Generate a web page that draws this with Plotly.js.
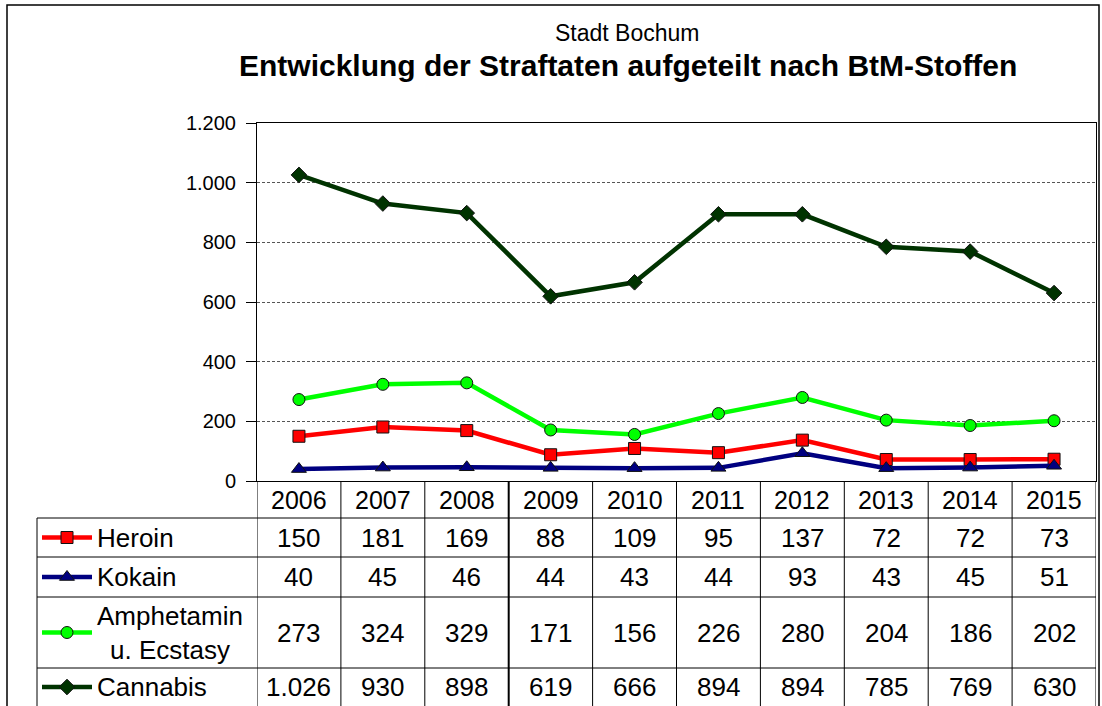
<!DOCTYPE html>
<html>
<head>
<meta charset="utf-8">
<script src="https://cdn.plot.ly/plotly-3.0.1.min.js"></script>
<style>html,body{margin:0;padding:0;background:#fff;}#chart{width:1102px;height:706px;}</style>
</head>
<body>
<div id="chart"></div>
<script>
// ---- data ----
const years = ['2006','2007','2008','2009','2010','2011','2012','2013','2014','2015'];
const seriesNames = ['Heroin','Kokain','Amphetamin<br>u. Ecstasy','Cannabis'];
const heroin = [150,181,169,88,109,95,137,72,72,73];
const kokain = [40,45,46,44,43,44,93,43,45,51];
const amphetamin = [273,324,329,171,156,226,280,204,186,202];
const cannabis = [1026,930,898,619,666,894,894,785,769,630];
const yTicks = [0,200,400,600,800,1000,1200];

// ---- styling ----
const W = 1102, H = 706;
const FONT = 'Liberation Sans, Arial, sans-serif';
const colors = ['#ff0000','#000080','#00ff00','#003300'];
const symbols = ['square','triangle-up','circle','diamond'];
const msize = [12,13,12,12];
const seriesData = [heroin, kokain, amphetamin, cannabis];

const px = x => x / W;
const py = y => 1 - y / H;

const plotL = 257, plotR = 1096, plotT = 123, plotB = 481;
const rowLines = [518, 557, 597, 668];
const rowCenters = [537.5, 577, 632.5, 687];
const headerCenter = 499.5;
const tableL = 37;
const TFS = 26;

function fmt(n){ return String(n).replace(/\B(?=(\d{3})+(?!\d))/g, '.'); }

const traces = [];
seriesData.forEach((d, i) => {
  traces.push({
    type: 'scatter', mode: 'lines+markers', x: years, y: d,
    name: seriesNames[i], showlegend: false, hoverinfo: 'skip',
    line: {color: colors[i], width: 4.5},
    marker: {symbol: symbols[i], size: msize[i], color: colors[i], line: {color: '#111', width: 1}},
    cliponaxis: false
  });
});
// legend keys drawn in the table's first column
seriesData.forEach((d, i) => {
  traces.push({type:'scatter', mode:'lines', x:[42,92], y:[rowCenters[i],rowCenters[i]],
    xaxis:'x2', yaxis:'y2', showlegend:false, hoverinfo:'skip',
    line:{color:colors[i], width:4.5}});
  traces.push({type:'scatter', mode:'markers', x:[67], y:[rowCenters[i]],
    xaxis:'x2', yaxis:'y2', showlegend:false, hoverinfo:'skip',
    marker:{symbol:symbols[i], size:msize[i], color:colors[i], line:{color:'#111', width:1}}});
});

const shapes = [];
const lineStyle = {color:'#000', width:1};
shapes.push({type:'rect', xref:'paper', yref:'paper', x0:px(7), x1:px(1099), y0:py(5), y1:py(740), line:{color:'#000', width:1.5}});
rowLines.forEach(y => shapes.push({type:'line', xref:'paper', yref:'paper', x0:px(tableL), x1:px(plotR), y0:py(y), y1:py(y), line:lineStyle}));
shapes.push({type:'line', xref:'paper', yref:'paper', x0:px(tableL), x1:px(tableL), y0:py(518), y1:py(720), line:lineStyle});
for (let i = 0; i <= years.length; i++) {
  shapes.push({type:'line', xref:'x', yref:'paper', x0:i-0.5, x1:i-0.5, y0:py(plotB), y1:py(720),
    line:{color:'#000', width: (i===3 ? 2 : 1)}});
}

const annotations = [];
annotations.push({xref:'paper', yref:'paper', x:px(627), y:py(33), xanchor:'center', yanchor:'middle', showarrow:false,
  text:'Stadt Bochum', font:{family:FONT, size:23, color:'#000'}});
annotations.push({xref:'paper', yref:'paper', x:px(628), y:py(66), xanchor:'center', yanchor:'middle', showarrow:false,
  text:'<b>Entwicklung der Straftaten aufgeteilt nach BtM-Stoffen</b>', font:{family:FONT, size:30, color:'#000'}});
years.forEach((yr, j) => annotations.push({xref:'x', yref:'paper', x:j, y:py(headerCenter), xanchor:'center', yanchor:'middle',
  showarrow:false, text:yr, font:{family:FONT, size:25, color:'#000'}}));
seriesData.forEach((d, i) => {
  annotations.push({xref:'paper', yref:'paper', x:px(95), y:py(rowCenters[i]), xanchor:'left', yanchor:'middle', align:'center',
    showarrow:false, text:seriesNames[i], font:{family:FONT, size:TFS, color:'#000'}});
  d.forEach((v, j) => annotations.push({xref:'x', yref:'paper', x:j, y:py(rowCenters[i]), xanchor:'center', yanchor:'middle',
    showarrow:false, text:fmt(v), font:{family:FONT, size:TFS, color:'#000'}}));
});

const layout = {
  width: W, height: H, margin:{l:0,r:0,t:0,b:0},
  paper_bgcolor:'#fff', plot_bgcolor:'rgba(0,0,0,0)', showlegend:false,
  separators: ',.',
  font:{family:FONT, color:'#000'},
  xaxis:{domain:[px(plotL), px(plotR)], type:'category', range:[-0.5, 9.5], showticklabels:false, ticks:'',
    showgrid:false, zeroline:false, showline:true, linecolor:'#000', linewidth:1, mirror:true, anchor:'y'},
  yaxis:{domain:[py(plotB), py(plotT)], range:[0,1200], tickvals:yTicks, tickformat:',d', ticks:'outside', ticklen:10,
    tickcolor:'#000', ticklabelstandoff:6, tickfont:{family:FONT, size:20, color:'#000'},
    showgrid:true, gridcolor:'#555', griddash:'3px,2px', gridwidth:1, zeroline:false,
    showline:true, linecolor:'#000', linewidth:1, mirror:true, anchor:'x'},
  xaxis2:{domain:[0,1], range:[0,W], visible:false, anchor:'y2'},
  yaxis2:{domain:[0,1], range:[H,0], visible:false, anchor:'x2'},
  shapes: shapes, annotations: annotations
};

Plotly.newPlot('chart', traces, layout, {displayModeBar:false, staticPlot:true});
</script>
</body>
</html>
